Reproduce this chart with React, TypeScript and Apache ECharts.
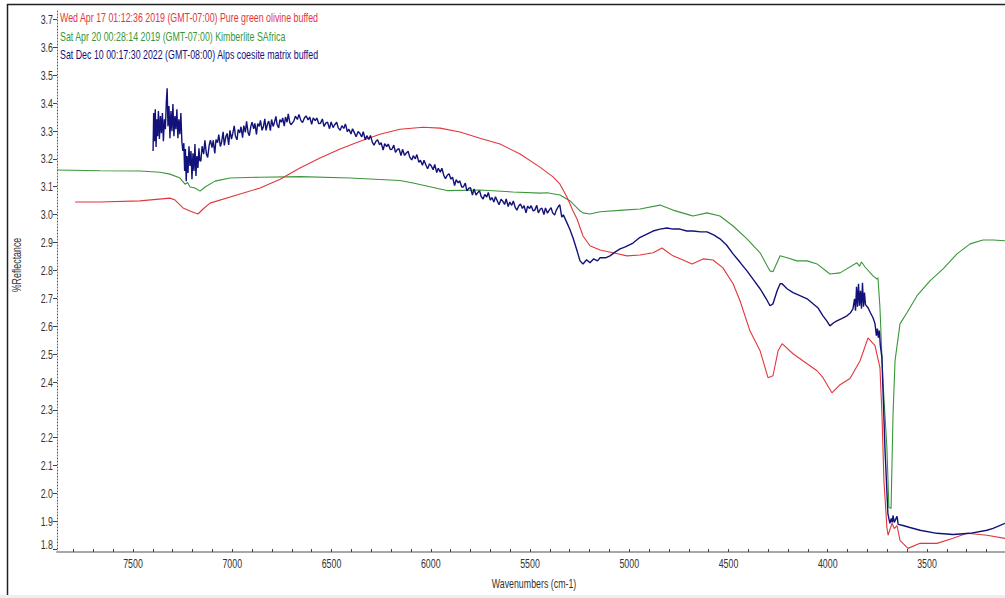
import React, { useEffect, useRef } from "react";
import * as echarts from "echarts";

// Spectrum headers, drawn top-left inside the plot
const headerRed = "Wed Apr 17 01:12:36 2019 (GMT-07:00) Pure green olivine buffed";
const headerGreen = "Sat Apr 20 00:28:14 2019 (GMT-07:00) Kimberlite SAfrica";
const headerNavy = "Sat Dec 10 00:17:30 2022 (GMT-08:00) Alps coesite matrix buffed";
const xAxisTitle = "Wavenumbers (cm-1)";
const yAxisTitle = "%Reflectance";

const xTickLabels = [7500, 7000, 6500, 6000, 5500, 5000, 4500, 4000, 3500];
const xMinorTicks = [
  7800, 7700, 7600, 7500, 7400, 7300, 7200, 7100, 7000, 6900, 6800, 6700, 6600, 6500, 6400, 6300,
  6200, 6100, 6000, 5900, 5800, 5700, 5600, 5500, 5400, 5300, 5200, 5100, 5000, 4900, 4800, 4700,
  4600, 4500, 4400, 4300, 4200, 4100, 4000, 3900, 3800, 3700, 3600, 3500, 3400, 3300, 3200,
];
const yTickLabels = [1.8, 1.9, 2.0, 2.1, 2.2, 2.3, 2.4, 2.5, 2.6, 2.7, 2.8, 2.9, 3.0, 3.1, 3.2, 3.3, 3.4, 3.5, 3.6, 3.7];

// [wavenumber cm-1, %Reflectance]
const olivine: [number, number][] = [
  [7792, 3.045], [7666, 3.045], [7465, 3.049], [7314, 3.059], [7288, 3.052], [7248, 3.024],
  [7213, 3.013], [7173, 3.002], [7147, 3.02], [7112, 3.041], [6961, 3.074], [6860, 3.095],
  [6759, 3.127], [6659, 3.167], [6558, 3.203], [6457, 3.235], [6356, 3.263], [6256, 3.288],
  [6155, 3.306], [6039, 3.313], [5953, 3.31], [5853, 3.296], [5752, 3.274], [5651, 3.253],
  [5550, 3.217], [5450, 3.17], [5384, 3.135], [5349, 3.109], [5314, 3.063], [5283, 3.013],
  [5263, 2.984], [5233, 2.923], [5198, 2.888], [5147, 2.873], [5082, 2.863], [5011, 2.852],
  [4946, 2.855], [4880, 2.863], [4835, 2.88], [4780, 2.852], [4729, 2.837], [4684, 2.823],
  [4628, 2.841], [4578, 2.837], [4528, 2.809], [4477, 2.752], [4442, 2.691], [4392, 2.583],
  [4341, 2.512], [4301, 2.415], [4276, 2.422], [4250, 2.512], [4230, 2.537], [4175, 2.501],
  [4104, 2.465], [4054, 2.44], [4024, 2.415], [3979, 2.361], [3938, 2.39], [3888, 2.412],
  [3837, 2.476], [3797, 2.558], [3762, 2.53], [3737, 2.451], [3727, 2.286], [3717, 2.046],
  [3702, 1.878], [3696, 1.85], [3686, 1.872], [3676, 1.893], [3665, 1.874], [3651, 1.885],
  [3636, 1.832], [3596, 1.803], [3535, 1.821], [3450, 1.821], [3369, 1.839], [3298, 1.857],
  [3198, 1.85], [3107, 1.839],
];

const kimberlite: [number, number][] = [
  [7883, 3.16], [7666, 3.157], [7465, 3.156], [7364, 3.152], [7314, 3.145], [7263, 3.131],
  [7238, 3.109], [7225, 3.115], [7213, 3.099], [7188, 3.095], [7162, 3.084], [7137, 3.099],
  [7087, 3.12], [7011, 3.131], [6860, 3.134], [6659, 3.136], [6407, 3.131], [6256, 3.126],
  [6155, 3.122], [6089, 3.113], [5953, 3.092], [5918, 3.086], [5752, 3.088], [5586, 3.081],
  [5450, 3.077], [5414, 3.078], [5349, 3.07], [5298, 3.049], [5248, 3.013], [5233, 3.006],
  [5198, 3.002], [5147, 3.01], [5031, 3.016], [4946, 3.02], [4845, 3.034], [4780, 3.016],
  [4694, 2.998], [4679, 2.995], [4608, 3.006], [4543, 2.995], [4477, 2.959], [4407, 2.913],
  [4341, 2.863], [4291, 2.798], [4276, 2.795], [4240, 2.852], [4205, 2.845], [4155, 2.834],
  [4104, 2.834], [4054, 2.823], [3989, 2.787], [3938, 2.791], [3853, 2.827], [3840, 2.815],
  [3830, 2.83], [3812, 2.812], [3772, 2.78], [3752, 2.769], [3747, 2.773], [3737, 2.666],
  [3722, 2.404], [3702, 2.165], [3692, 1.95], [3681, 1.946], [3671, 2.286], [3661, 2.476],
  [3636, 2.608], [3601, 2.648], [3550, 2.709], [3485, 2.762], [3419, 2.805], [3349, 2.859],
  [3283, 2.895], [3218, 2.909], [3167, 2.909], [3107, 2.906],
];

const coesite: [number, number][] = [
  [7399, 3.228], [7396, 3.364], [7392, 3.263], [7388, 3.378], [7384, 3.242], [7380, 3.342],
  [7376, 3.281], [7372, 3.371], [7367, 3.271], [7362, 3.353], [7357, 3.292], [7352, 3.364],
  [7347, 3.263], [7342, 3.342], [7337, 3.306], [7332, 3.407], [7328, 3.453], [7324, 3.317],
  [7319, 3.389], [7314, 3.274], [7309, 3.371], [7304, 3.299], [7299, 3.396], [7294, 3.281],
  [7289, 3.353], [7284, 3.306], [7279, 3.378], [7274, 3.274], [7269, 3.342], [7264, 3.288],
  [7259, 3.364], [7254, 3.263], [7249, 3.228], [7244, 3.256], [7240, 3.156], [7236, 3.235],
  [7232, 3.12], [7228, 3.21], [7223, 3.149], [7218, 3.245], [7213, 3.174], [7208, 3.228],
  [7203, 3.127], [7198, 3.22], [7193, 3.156], [7188, 3.253], [7183, 3.138], [7178, 3.21],
  [7173, 3.167], [7168, 3.238], [7163, 3.192], [7158, 3.193], [7152, 3.245], [7144, 3.217],
  [7138, 3.266], [7130, 3.216], [7124, 3.205], [7116, 3.25], [7110, 3.267], [7102, 3.24],
  [7096, 3.266], [7088, 3.219], [7082, 3.269], [7074, 3.258], [7068, 3.287], [7060, 3.244],
  [7054, 3.259], [7046, 3.297], [7040, 3.248], [7032, 3.28], [7026, 3.291], [7018, 3.25],
  [7012, 3.302], [7004, 3.271], [6998, 3.289], [6990, 3.318], [6984, 3.281], [6976, 3.268],
  [6970, 3.305], [6962, 3.293], [6956, 3.315], [6948, 3.276], [6942, 3.319], [6934, 3.295],
  [6928, 3.334], [6920, 3.293], [6914, 3.283], [6906, 3.318], [6900, 3.331], [6892, 3.307],
  [6886, 3.327], [6878, 3.287], [6872, 3.326], [6864, 3.316], [6858, 3.338], [6850, 3.302],
  [6844, 3.313], [6836, 3.343], [6830, 3.302], [6822, 3.326], [6816, 3.335], [6808, 3.301],
  [6802, 3.341], [6794, 3.316], [6788, 3.329], [6780, 3.352], [6774, 3.322], [6766, 3.311],
  [6760, 3.341], [6752, 3.331], [6746, 3.347], [6738, 3.317], [6732, 3.35], [6724, 3.331],
  [6718, 3.361], [6710, 3.33], [6704, 3.322], [6690, 3.335], [6682, 3.353], [6672, 3.341],
  [6664, 3.359], [6654, 3.337], [6646, 3.33], [6636, 3.347], [6628, 3.354], [6618, 3.339],
  [6610, 3.35], [6600, 3.324], [6592, 3.347], [6582, 3.337], [6574, 3.346], [6564, 3.326],
  [6556, 3.327], [6546, 3.343], [6538, 3.316], [6528, 3.329], [6520, 3.331], [6510, 3.308],
  [6502, 3.332], [6492, 3.312], [6484, 3.322], [6474, 3.331], [6466, 3.311], [6456, 3.302],
  [6448, 3.319], [6438, 3.309], [6430, 3.325], [6420, 3.297], [6412, 3.306], [6402, 3.289],
  [6394, 3.308], [6384, 3.292], [6376, 3.279], [6366, 3.298], [6358, 3.292], [6348, 3.278],
  [6340, 3.297], [6330, 3.268], [6322, 3.283], [6312, 3.269], [6304, 3.284], [6294, 3.259],
  [6286, 3.249], [6276, 3.263], [6268, 3.268], [6258, 3.25], [6250, 3.258], [6240, 3.231],
  [6232, 3.254], [6222, 3.244], [6214, 3.253], [6204, 3.233], [6196, 3.234], [6186, 3.249],
  [6178, 3.223], [6168, 3.234], [6160, 3.236], [6150, 3.212], [6142, 3.234], [6132, 3.212],
  [6124, 3.22], [6114, 3.227], [6106, 3.206], [6096, 3.196], [6088, 3.211], [6078, 3.2],
  [6070, 3.215], [6060, 3.187], [6052, 3.195], [6042, 3.177], [6034, 3.195], [6024, 3.177],
  [6016, 3.164], [6006, 3.182], [5998, 3.175], [5988, 3.161], [5980, 3.18], [5970, 3.151],
  [5962, 3.166], [5952, 3.152], [5944, 3.166], [5934, 3.14], [5926, 3.129], [5916, 3.142],
  [5908, 3.146], [5898, 3.127], [5890, 3.134], [5880, 3.104], [5872, 3.125], [5862, 3.114],
  [5854, 3.121], [5844, 3.099], [5836, 3.099], [5826, 3.113], [5818, 3.085], [5808, 3.095],
  [5800, 3.096], [5790, 3.07], [5782, 3.092], [5772, 3.07], [5764, 3.078], [5754, 3.085],
  [5746, 3.065], [5736, 3.056], [5728, 3.072], [5718, 3.063], [5710, 3.079], [5700, 3.052],
  [5692, 3.061], [5682, 3.045], [5674, 3.064], [5664, 3.048], [5656, 3.035], [5646, 3.055],
  [5638, 3.049], [5628, 3.036], [5620, 3.056], [5610, 3.029], [5602, 3.045], [5592, 3.033],
  [5584, 3.049], [5574, 3.025], [5566, 3.016], [5556, 3.032], [5548, 3.038], [5538, 3.022],
  [5530, 3.032], [5520, 3.006], [5512, 3.03], [5502, 3.022], [5494, 3.032], [5484, 3.013],
  [5476, 3.016], [5466, 3.033], [5458, 3.006], [5448, 3.02], [5440, 3.023], [5430, 3.0],
  [5422, 3.024], [5412, 3.005], [5404, 3.015], [5394, 3.025], [5386, 3.006], [5376, 2.998],
  [5368, 3.015], [5358, 3.028], [5350, 3.035], [5340, 2.991], [5332, 2.999], [5320, 2.98],
  [5300, 2.948], [5283, 2.916], [5263, 2.87], [5248, 2.834], [5233, 2.823], [5215, 2.838],
  [5198, 2.827], [5180, 2.841], [5160, 2.834], [5147, 2.845], [5120, 2.845], [5097, 2.852],
  [5070, 2.866], [5046, 2.877], [5020, 2.884], [4981, 2.898], [4950, 2.916], [4911, 2.93],
  [4880, 2.941], [4845, 2.948], [4810, 2.952], [4780, 2.948], [4745, 2.948], [4710, 2.941],
  [4679, 2.941], [4640, 2.938], [4608, 2.938], [4575, 2.927], [4543, 2.913], [4510, 2.891],
  [4477, 2.859], [4440, 2.827], [4407, 2.798], [4370, 2.762], [4341, 2.734], [4310, 2.698],
  [4291, 2.673], [4276, 2.68], [4255, 2.727], [4240, 2.752], [4230, 2.752], [4205, 2.734],
  [4175, 2.72], [4140, 2.709], [4104, 2.698], [4074, 2.68], [4050, 2.666], [4024, 2.637],
  [4005, 2.619], [3989, 2.601], [3970, 2.612], [3954, 2.619], [3930, 2.627], [3903, 2.637],
  [3885, 2.648], [3873, 2.662], [3865, 2.698], [3860, 2.655], [3855, 2.741], [3850, 2.67],
  [3845, 2.752], [3840, 2.673], [3835, 2.727], [3830, 2.662], [3825, 2.755], [3820, 2.67],
  [3815, 2.72], [3810, 2.677], [3797, 2.666], [3785, 2.648], [3772, 2.63], [3762, 2.609],
  [3755, 2.566], [3750, 2.591], [3745, 2.559], [3740, 2.584], [3735, 2.53], [3727, 2.487],
  [3722, 2.379], [3712, 2.165], [3697, 1.928], [3687, 1.893], [3680, 1.91], [3675, 1.896],
  [3671, 1.921], [3665, 1.896], [3658, 1.907], [3651, 1.918], [3645, 1.889], [3621, 1.885],
  [3586, 1.878], [3535, 1.868], [3450, 1.857], [3369, 1.853], [3283, 1.857], [3198, 1.868],
  [3167, 1.875], [3107, 1.893],
];

const LABEL_FONT = '13px "Liberation Sans", Arial, sans-serif';
const NARROW = 0.68; // horizontal squeeze of the instrument's condensed lettering
const RED = "#e2363c";
const GREEN = "#3a963a";
const NAVY = "#12127a";
const INK = "#333333";

export default function App() {
  const ref = useRef<HTMLDivElement>(null);

  useEffect(() => {
    if (!ref.current) return;
    const chart = echarts.init(ref.current, null, { renderer: "svg" });
    chart.setOption({
      animation: false,
      backgroundColor: "#ffffff",
      grid: { left: 57, top: 11, width: 948, height: 541, containLabel: false },
      xAxis: {
        type: "value",
        inverse: true,
        min: 3107,
        max: 7883,
        axisLine: { show: true, onZero: false, lineStyle: { color: "#a8a8a8", width: 2 } },
        axisTick: { show: true, inside: true, length: 3, customValues: xMinorTicks, lineStyle: { color: "#444", width: 1 } },
        axisLabel: { show: false },
        splitLine: { show: false },
      },
      yAxis: {
        type: "value",
        min: 1.79,
        max: 3.73,
        axisLine: { show: true, lineStyle: { color: "#555", width: 1, type: [1, 2] } },
        axisTick: { show: true, length: 4, customValues: yTickLabels, lineStyle: { color: "#444" } },
        axisLabel: { show: false },
        splitLine: { show: false },
      },
      series: [
        { name: headerRed, type: "line", data: olivine, showSymbol: false, lineStyle: { color: RED, width: 1.1 }, z: 3 },
        { name: headerGreen, type: "line", data: kimberlite, showSymbol: false, lineStyle: { color: GREEN, width: 1.1 }, z: 2 },
        { name: headerNavy, type: "line", data: coesite, showSymbol: false, lineStyle: { color: NAVY, width: 1.4 }, z: 4 },
      ],
    });

    // Tick labels in the condensed lettering, placed through the axis scales
    const axisBottom = chart.convertToPixel({ yAxisIndex: 0 }, 1.79) as number;
    const axisLeft = chart.convertToPixel({ xAxisIndex: 0 }, 7883) as number;
    const xLabels = xTickLabels.map((v) => ({
      type: "text",
      x: chart.convertToPixel({ xAxisIndex: 0 }, v) as number,
      y: axisBottom + 11,
      scaleX: NARROW,
      style: { text: String(v), fill: INK, font: LABEL_FONT, align: "center", verticalAlign: "middle" },
    }));
    const yLabels = yTickLabels.map((v) => ({
      type: "text",
      x: axisLeft - 4,
      y: Math.min(chart.convertToPixel({ yAxisIndex: 0 }, v) as number, axisBottom - 8),
      scaleX: NARROW,
      style: { text: v.toFixed(1), fill: INK, font: LABEL_FONT, align: "right", verticalAlign: "middle" },
    }));

    const header = (text: string, color: string, y: number) => ({
      type: "text",
      x: axisLeft + 3,
      y,
      scaleX: NARROW,
      style: { text, fill: color, font: LABEL_FONT, verticalAlign: "middle" },
    });

    chart.setOption({
      graphic: [
        { type: "line", shape: { x1: 7.5, y1: 4, x2: 7.5, y2: 595 }, style: { stroke: "#222", lineWidth: 1.5 } },
        { type: "line", shape: { x1: 7, y1: 4.5, x2: 1005, y2: 4.5 }, style: { stroke: "#222", lineWidth: 1.5 } },
        { type: "rect", shape: { x: 0, y: 595, width: 1005, height: 3 }, style: { fill: "#eeeeee" } },
        header(headerRed, RED, 17),
        header(headerGreen, GREEN, 36),
        header(headerNavy, NAVY, 54),
        ...xLabels,
        ...yLabels,
        {
          type: "text",
          x: 534,
          y: 583,
          scaleX: NARROW,
          style: { text: xAxisTitle, fill: INK, font: LABEL_FONT, align: "center", verticalAlign: "middle" },
        },
        {
          type: "text",
          x: 16,
          y: 265,
          rotation: Math.PI / 2,
          scaleX: NARROW,
          style: { text: yAxisTitle, fill: INK, font: LABEL_FONT, align: "center", verticalAlign: "middle" },
        },
      ],
    });
    return () => chart.dispose();
  }, []);

  return <div ref={ref} style={{ position: "fixed", left: 0, top: 0, width: 1005, height: 598 }} />;
}
